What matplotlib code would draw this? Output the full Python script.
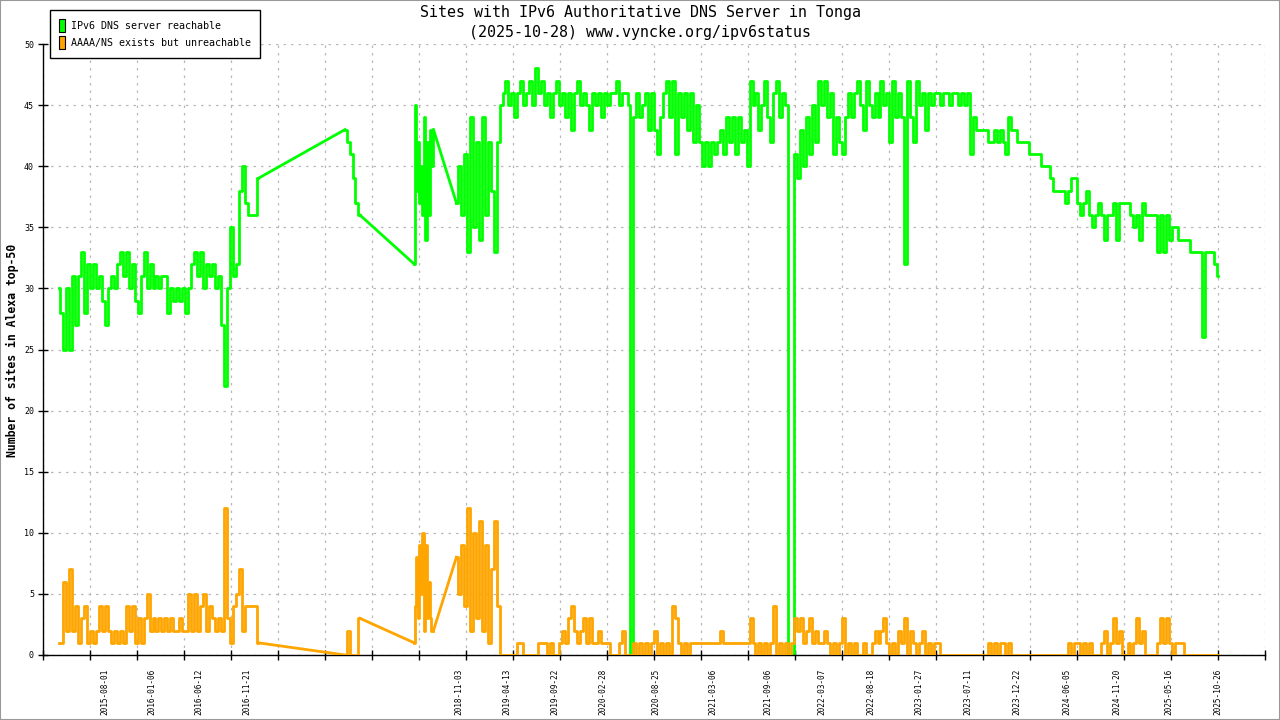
"""
Sites with IPv6 authoritative DNS server in Tonga (gnuplot style chart).
Values read by eye off the original picture, one sample per 10 days
(5 days for the short 2018 stretch).
"""

import numpy as np
import pandas as pd
import matplotlib
matplotlib.use("Agg")
import matplotlib.pyplot as plt
import matplotlib.dates as mdates
from matplotlib.patches import Patch, Rectangle

# 2015-02 .. 2016-12, every 10 days
seg1_start = "2015-02-27"
seg1_step = 10
seg1_green = [30, 28, 25, 30, 25, 31, 27, 31, 33, 28,
              32, 30, 32, 30, 31, 29, 27, 30, 31, 30,
              32, 33, 31, 33, 30, 32, 29, 28, 31, 33,
              30, 32, 30, 31, 30, 31, 31, 28, 30, 29,
              30, 29, 30, 28, 30, 32, 33, 31, 33, 30,
              32, 31, 32, 30, 31, 27, 22, 30, 35, 31,
              32, 38, 40, 37, 36, 36, 36, 39]
seg1_orange = [1, 1, 6, 2, 7, 2, 4, 1, 3, 4,
               1, 2, 1, 2, 4, 2, 4, 2, 1, 2,
               1, 2, 1, 4, 2, 4, 1, 3, 1, 3,
               5, 2, 3, 2, 3, 2, 3, 2, 3, 2,
               2, 3, 2, 2, 5, 2, 5, 2, 4, 5,
               2, 4, 3, 2, 3, 2, 12, 3, 1, 4,
               5, 7, 2, 4, 4, 4, 4, 1]

# late 2017
seg2_start = "2017-10-16"
seg2_step = 10
seg2_green = [43, 42, 41, 39, 37, 36]
seg2_orange = [0, 2, 0, 0, 0, 3]

# mid 2018
seg3_start = "2018-06-05"
seg3_step = 5
seg3_green = [32, 45, 38, 42, 37, 40, 36, 44, 34, 42, 36, 43, 40, 43]
seg3_orange = [1, 4, 8, 3, 9, 5, 10, 2, 9, 3, 6, 3, 2, 2]

# 2018-10 .. 2025-10, every 10 days
seg4_start = "2018-10-25"
seg4_step = 10
seg4_green = [37, 40, 36, 41, 33, 44, 35, 42, 34, 44,
              36, 42, 38, 33, 42, 45, 46, 47, 45, 46,
              44, 46, 47, 45, 46, 47, 45, 48, 46, 47,
              45, 46, 44, 46, 47, 45, 46, 44, 46, 43,
              46, 47, 45, 46, 45, 43, 46, 45, 46, 44,
              46, 45, 46, 46, 47, 45, 46, 46, 45, 0,
              44, 46, 44, 45, 46, 43, 46, 43, 41, 44,
              46, 47, 44, 47, 41, 46, 44, 46, 43, 46,
              42, 45, 42, 40, 42, 40, 42, 41, 42, 43,
              41, 44, 42, 44, 41, 44, 42, 43, 40, 47,
              45, 46, 43, 45, 47, 44, 42, 46, 47, 44,
              46, 45, 0, 0, 41, 39, 43, 40, 44, 41,
              45, 42, 47, 45, 47, 44, 46, 41, 44, 42,
              41, 44, 46, 44, 46, 47, 45, 43, 47, 45,
              44, 46, 44, 47, 45, 46, 42, 47, 44, 46,
              44, 32, 47, 44, 42, 47, 45, 46, 43, 46,
              45, 46, 46, 45, 46, 46, 45, 46, 46, 45,
              46, 45, 46, 41, 44, 43, 43, 43, 43, 42,
              42, 43, 42, 43, 42, 41, 44, 43, 43, 42,
              42, 42, 42, 41, 41, 41, 41, 40, 40, 40,
              39, 38, 38, 38, 38, 37, 38, 39, 39, 37,
              36, 37, 38, 36, 35, 36, 37, 36, 34, 36,
              36, 37, 34, 37, 37, 37, 37, 36, 35, 36,
              34, 37, 36, 36, 36, 36, 33, 36, 33, 36,
              34, 35, 35, 34, 34, 34, 34, 33, 33, 33,
              33, 26, 33, 33, 33, 32, 31]
seg4_orange = [8, 5, 9, 4, 12, 2, 10, 3, 11, 2,
               9, 1, 7, 11, 4, 0, 0, 0, 0, 0,
               0, 1, 1, 0, 0, 0, 0, 0, 1, 1,
               1, 0, 1, 0, 0, 1, 2, 1, 3, 4,
               2, 1, 2, 3, 1, 3, 1, 1, 2, 1,
               1, 1, 0, 0, 0, 1, 2, 0, 0, 0,
               1, 0, 1, 0, 1, 0, 1, 2, 0, 1,
               0, 1, 0, 4, 3, 1, 0, 1, 0, 1,
               1, 1, 1, 1, 1, 1, 1, 1, 1, 2,
               1, 1, 1, 1, 1, 1, 1, 1, 1, 3,
               1, 0, 1, 0, 1, 0, 1, 4, 0, 1,
               0, 1, 0, 1, 3, 2, 3, 1, 2, 3,
               1, 2, 1, 1, 2, 1, 0, 1, 0, 1,
               3, 0, 1, 0, 1, 0, 0, 1, 0, 0,
               1, 2, 1, 2, 3, 1, 0, 1, 0, 2,
               1, 3, 0, 2, 1, 0, 1, 2, 0, 1,
               0, 1, 1, 0, 0, 0, 0, 0, 0, 0,
               0, 0, 0, 0, 0, 0, 0, 0, 0, 1,
               0, 1, 0, 1, 1, 0, 1, 0, 0, 0,
               0, 0, 0, 0, 0, 0, 0, 0, 0, 0,
               0, 0, 0, 0, 0, 0, 1, 0, 1, 1,
               0, 1, 0, 1, 0, 0, 0, 1, 2, 0,
               1, 3, 1, 2, 0, 0, 1, 0, 1, 3,
               1, 2, 0, 0, 0, 0, 1, 3, 1, 3,
               1, 0, 1, 1, 1, 0, 0, 0, 0, 0,
               0, 0, 0, 0, 0, 0, 0]

label_dates = ["2015-08-01", "2016-01-06", "2016-06-12", "2016-11-21",
               "2018-11-03", "2019-04-13", "2019-09-22", "2020-02-28",
               "2020-08-25", "2021-03-06", "2021-09-06", "2022-03-07",
               "2022-08-18", "2023-01-27", "2023-07-11", "2023-12-22",
               "2024-06-05", "2024-11-20", "2025-05-16", "2025-10-26"]

x_start = "2015-01-05"
x_end = "2026-04-03"

GREEN = '#00ff00'
ORANGE = '#ffa500'

plt.rcParams['font.family'] = ['DejaVu Sans Mono']

segments = [(seg1_start, seg1_step, seg1_green, seg1_orange),
            (seg2_start, seg2_step, seg2_green, seg2_orange),
            (seg3_start, seg3_step, seg3_green, seg3_orange),
            (seg4_start, seg4_step, seg4_green, seg4_orange)]

fig = plt.figure(figsize=(12.8, 7.2), dpi=100)
ax = fig.add_axes([43 / 1280, 65 / 720, 1222 / 1280, 611 / 720])

# each run of samples drawn as steps, the holes in between as straight lines
prev = None
for start, step, g, o in segments:
    d = pd.date_range(start, periods=len(g), freq=f"{step}D")
    if prev is not None:
        ax.plot([prev[0], d[0]], [prev[1], g[0]], color=GREEN, lw=2.0, zorder=2)
        ax.plot([prev[0], d[0]], [prev[2], o[0]], color=ORANGE, lw=2.0, zorder=3)
    ax.plot(d, g, color=GREEN, lw=2.0, drawstyle='steps-mid', zorder=2)
    ax.plot(d, o, color=ORANGE, lw=2.0, drawstyle='steps-mid', zorder=3)
    prev = (d[-1], g[-1], o[-1])

# axes
xmin = mdates.date2num(pd.Timestamp(x_start))
xmax = mdates.date2num(pd.Timestamp(x_end))
ax.set_xlim(xmin, xmax)
ax.set_ylim(0, 50)

ax.set_xticks(mdates.date2num(pd.to_datetime(label_dates)))
ax.set_xticklabels(label_dates, rotation=90, fontsize=5.6, va='top')
ax.set_xticks(np.linspace(xmin, xmax, 27), minor=True)
ax.tick_params(axis='x', which='major', length=0, pad=10)
ax.tick_params(axis='x', which='minor', direction='inout', length=7, width=1)

ax.set_yticks(range(0, 51, 5))
ax.tick_params(axis='y', direction='inout', length=7, width=1, labelsize=6, pad=3)

ax.grid(True, axis='y', color='#b8b8b8', lw=0.9, linestyle=(0, (2, 4)))
ax.grid(True, axis='x', which='minor', color='#b8b8b8', lw=0.9, linestyle=(0, (2, 4)))
ax.set_axisbelow(True)

for side in ['top', 'right']:
    ax.spines[side].set_visible(False)
ax.spines['left'].set_linewidth(1)
ax.spines['bottom'].set_linewidth(1)

# title and y label
fig.text(0.5, 1 - 13 / 720, "Sites with IPv6 Authoritative DNS Server in Tonga",
         ha='center', va='center', fontsize=10.8)
fig.text(0.5, 1 - 32 / 720, "(2025-10-28) www.vyncke.org/ipv6status",
         ha='center', va='center', fontsize=10.8)
fig.text(12 / 1280, 1 - 350 / 720, "Number of sites in Alexa top-50",
         rotation=90, ha='center', va='center', fontsize=8.3, fontweight='bold')

# legend
handles = [Patch(facecolor=GREEN, edgecolor='black', lw=0.8),
           Patch(facecolor=ORANGE, edgecolor='black', lw=0.8)]
leg = fig.legend(handles, ["IPv6 DNS server reachable", "AAAA/NS exists but unreachable"],
                 loc='upper left', bbox_to_anchor=(50 / 1280, 1 - 10 / 720),
                 fontsize=7.2, frameon=True, fancybox=False, framealpha=1,
                 edgecolor='black', handlelength=0.6, handleheight=1.6,
                 handletextpad=0.6, borderpad=0.9, labelspacing=0.45,
                 borderaxespad=0)
leg.get_frame().set_linewidth(1)

# grey frame around the picture
fig.patches.append(Rectangle((0, 0), 1, 1, transform=fig.transFigure,
                             fill=False, edgecolor='#999999', lw=1.5))

fig.savefig('out.png', dpi=100)
